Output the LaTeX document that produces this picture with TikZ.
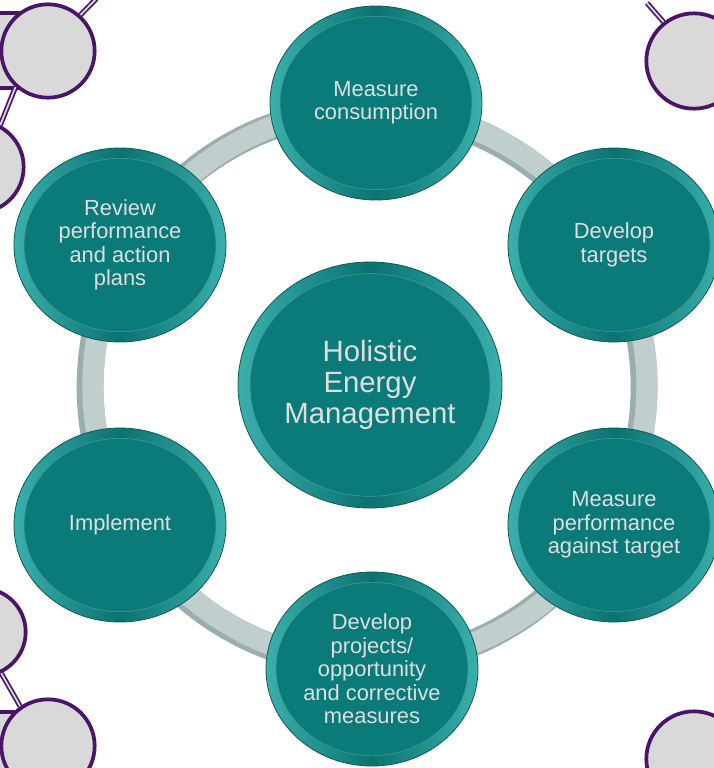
\documentclass[tikz,border=0pt]{standalone}
\usepackage{fontspec}
\setmainfont{Liberation Sans}
\usetikzlibrary{shapes.geometric}
\definecolor{tealrimdark}{HTML}{0B7270}
\definecolor{tealrimlight}{HTML}{3AB0AB}
\definecolor{tealface}{HTML}{0A7B79}
\definecolor{tealedge}{HTML}{0A5A58}
\definecolor{ringc}{HTML}{C0CECE}
\definecolor{ringd}{HTML}{9AAEAE}
\definecolor{txt}{HTML}{DEDEDE}
\definecolor{purp}{HTML}{4A1568}
\definecolor{pgrey}{HTML}{D9D9D9}
\begin{document}
\begin{tikzpicture}[x=0.75pt,y=-0.75pt,
  stepnode/.style={ellipse, minimum width=159pt, minimum height=145.5pt, inner sep=0pt,
    draw=tealedge, line width=0.6pt,
    left color=tealrimlight, right color=tealrimlight, middle color=tealrimdark,
    text=txt, align=center, font=\fontsize{16.4}{17.6}\selectfont,
    path picture={\fill[tealface, draw=tealface!75!white, line width=0.4pt] (path picture bounding box.center) ellipse [x radius=72pt, y radius=65pt];}},
  hubnode/.style={ellipse, minimum width=198pt, minimum height=184.5pt, inner sep=0pt,
    draw=tealedge, line width=0.6pt,
    left color=tealrimlight, right color=tealrimlight, middle color=tealrimdark,
    text=txt, align=center, font=\fontsize{22}{23}\selectfont,
    path picture={\fill[tealface, draw=tealface!75!white, line width=0.4pt] (path picture bounding box.center) ellipse [x radius=90pt, y radius=83.5pt];}},
  pcirc/.style={circle, draw=purp, fill=pgrey, line width=2.8pt, inner sep=0pt},
  conn/.style={draw=purp, double=pgrey, double distance=1.3pt, line width=1.3pt},
  pbar/.style={draw=purp, fill=pgrey, line width=2.8pt}
]
\useasboundingbox (0,0) rectangle (714,768);
\clip (0,0) rectangle (714,768);

% decorative corner shapes
\draw[pbar] (-30,13) rectangle (48,88);
\draw[pbar] (-30,712) rectangle (48,800);
\node[pcirc, minimum size=70pt] (pA) at (48,51) {};
\node[pcirc, minimum size=68.5pt] (pB) at (-22,167) {};
\node[pcirc, minimum size=65.5pt] (pC) at (-18,632) {};
\node[pcirc, minimum size=70pt] (pD) at (48,746) {};
\node[pcirc, minimum size=71.5pt] (pE) at (694,61) {};
\node[pcirc, minimum size=71.5pt] (pF) at (694,759) {};
\coordinate (tA) at (98,-3);
\coordinate (tE) at (647,3);
\draw[conn] (pA.48) -- (tA);
\draw[conn] (pA.228) -- (pB.62);
\draw[conn] (pC.-65) -- (pD.125);
\draw[conn] (pE.128) -- (tE);

% ring
\draw[ringd, line width=20pt] (367,387) circle [radius=207.75pt];
\draw[ringc, line width=16pt] (370,386) circle [radius=207.75pt];

% nodes
\node[hubnode] (hub) at (370,385) {Holistic\\Energy\\Management};
\node[stepnode] (n1) at (376,103) {Measure\\consumption};
\node[stepnode] (n2) at (614,245) {Develop\\targets};
\node[stepnode] (n3) at (614,525) {Measure\\performance\\against target};
\node[stepnode] (n4) at (372,669) {Develop\\projects/\\opportunity\\and corrective\\measures};
\node[stepnode] (n5) at (120,525) {Implement};
\node[stepnode] (n6) at (120,245) {Review\\performance\\and action\\plans};
\end{tikzpicture}
\end{document}
